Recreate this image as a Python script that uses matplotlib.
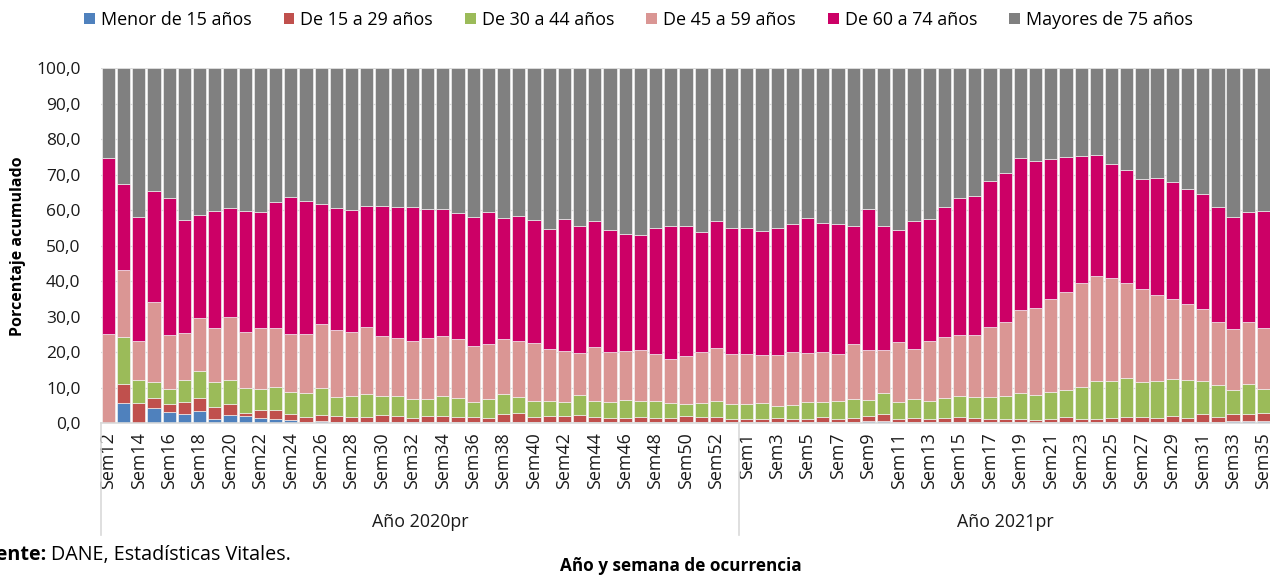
import numpy as np
import matplotlib
matplotlib.use("Agg")
import matplotlib.pyplot as plt
from matplotlib.patches import Patch
from matplotlib.lines import Line2D

plt.rcParams['font.family'] = ['Open Sans', 'DejaVu Sans']

# ---------------- data ----------------
semanas_2020 = ["Sem%d" % i for i in range(12, 54)]   # Sem12 .. Sem53
semanas_2021 = ["Sem%d" % i for i in range(1, 36)]    # Sem1 .. Sem35
semanas = semanas_2020 + semanas_2021

grupos = ["Año 2020pr", "Año 2021pr"]

series_names = ["Menor de 15 años", "De 15 a 29 años", "De 30 a 44 años",
                "De 45 a 59 años", "De 60 a 74 años", "Mayores de 75 años"]

menor15 = [0.0, 5.5, 0.0, 4.3, 3.2, 2.6, 3.4, 1.2, 2.3, 2.0,
           1.5, 1.2, 0.9, 0.4, 0.6, 0.4, 0.4, 0.3, 0.4, 0.3,
           0.3, 0.3, 0.3, 0.3, 0.2, 0.2, 0.4, 0.3, 0.2, 0.2,
           0.2, 0.2, 0.2, 0.3, 0.2, 0.2, 0.2, 0.2, 0.4, 0.3,
           0.2, 0.2,
           0.2, 0.2, 0.2, 0.2, 0.2, 0.4, 0.2, 0.2, 0.5, 0.6,
           0.2, 0.2, 0.2, 0.2, 0.2, 0.2, 0.2, 0.2, 0.2, 0.1,
           0.2, 0.2, 0.2, 0.2, 0.2, 0.2, 0.2, 0.2, 0.4, 0.2,
           0.3, 0.2, 0.6, 0.7, 0.7]
de15a29 = [0.0, 5.4, 5.5, 2.8, 2.2, 3.4, 3.7, 3.3, 3.0, 0.8,
           2.1, 2.4, 1.6, 1.3, 1.6, 1.6, 1.4, 1.5, 1.8, 1.8,
           1.2, 1.7, 1.7, 1.3, 1.5, 1.2, 2.0, 2.4, 1.5, 1.9,
           1.9, 2.0, 1.5, 1.1, 1.3, 1.5, 1.3, 1.3, 1.7, 1.5,
           1.6, 1.0,
           0.8, 1.0, 1.2, 0.9, 1.0, 1.3, 1.0, 1.3, 1.5, 1.8,
           1.0, 1.2, 1.0, 1.1, 1.6, 1.3, 1.0, 0.9, 1.0, 0.7,
           1.0, 1.5, 1.0, 1.0, 1.3, 1.5, 1.5, 1.3, 1.7, 1.3,
           2.1, 1.6, 2.0, 1.7, 2.0]
de30a44 = [0.0, 13.3, 6.6, 4.4, 4.2, 6.0, 7.5, 7.0, 6.7, 7.2,
           5.9, 6.5, 6.2, 6.8, 7.8, 5.4, 5.8, 6.3, 5.5, 5.6,
           5.2, 4.8, 5.6, 5.5, 4.2, 5.3, 5.7, 4.5, 4.4, 4.0,
           3.7, 5.6, 4.6, 4.5, 4.9, 4.4, 4.7, 4.2, 3.3, 3.7,
           4.3, 4.1,
           4.3, 4.3, 3.5, 4.1, 4.6, 4.1, 5.1, 5.4, 4.4, 6.1,
           4.8, 5.3, 5.0, 5.8, 5.8, 5.9, 6.0, 6.5, 7.2, 7.0,
           7.6, 7.6, 8.9, 10.7, 10.4, 10.9, 10.0, 10.4, 10.3, 10.6,
           9.4, 9.0, 6.8, 8.5, 7.0]
de45a59 = [25.0, 18.9, 11.0, 22.7, 15.1, 13.4, 15.0, 15.4, 17.8, 15.6,
           17.4, 16.6, 16.4, 16.6, 18.0, 18.8, 18.1, 19.1, 16.9, 16.2,
           16.5, 17.2, 17.0, 16.6, 15.9, 15.5, 15.5, 15.9, 16.5, 14.7,
           14.4, 11.8, 15.0, 14.0, 13.8, 14.5, 13.2, 12.3, 13.4, 14.5,
           15.0, 14.1,
           14.1, 13.7, 14.4, 14.7, 13.9, 14.1, 13.2, 15.5, 14.2, 12.0,
           16.8, 14.2, 16.8, 17.1, 17.3, 17.4, 20.0, 20.9, 23.4, 24.5,
           26.3, 27.7, 29.3, 29.5, 28.9, 27.0, 26.0, 24.1, 22.5, 21.4,
           20.2, 17.7, 17.0, 17.6, 17.0]
de60a74 = [49.8, 24.3, 35.1, 31.3, 38.6, 31.9, 29.1, 32.9, 30.9, 34.2,
           32.6, 35.7, 38.6, 37.5, 33.8, 34.4, 34.4, 34.0, 36.7, 37.0,
           37.8, 36.3, 35.7, 35.6, 36.3, 37.2, 34.3, 35.4, 34.6, 33.9,
           37.4, 35.8, 35.6, 34.4, 33.2, 32.5, 35.7, 37.4, 36.6, 33.9,
           35.8, 35.7,
           35.7, 35.0, 35.8, 36.3, 38.2, 36.5, 36.6, 33.0, 39.7, 35.0,
           31.7, 36.0, 34.6, 36.6, 38.4, 39.3, 41.1, 42.1, 43.0, 41.6,
           39.4, 38.0, 36.0, 34.2, 32.1, 31.6, 31.1, 33.2, 33.1, 32.6,
           32.7, 32.4, 31.6, 31.0, 33.2]
mayores75 = [25.2, 32.6, 41.8, 34.5, 36.7, 42.7, 41.3, 40.2, 39.3, 40.2,
             40.5, 37.6, 36.3, 37.4, 38.2, 39.4, 39.9, 38.8, 38.7, 39.1,
             39.0, 39.7, 39.7, 40.7, 41.9, 40.6, 42.1, 41.5, 42.8, 45.3,
             42.4, 44.6, 43.1, 45.7, 46.6, 46.9, 44.9, 44.6, 44.6, 46.1,
             43.1, 44.9,
             44.9, 45.8, 44.9, 43.8, 42.1, 43.6, 43.9, 44.6, 39.7, 44.5,
             45.5, 43.1, 42.4, 39.2, 36.7, 35.9, 31.7, 29.4, 25.2, 26.1,
             25.5, 25.0, 24.6, 24.4, 27.1, 28.8, 31.2, 30.8, 32.0, 33.9,
             35.3, 39.1, 42.0, 40.5, 40.1]

colors = ["#4F81BD", "#C0504D", "#9BBB59", "#DA9694", "#CC0066", "#808080"]

# ---------------- figure ----------------
W, H = 1270, 576
fig = plt.figure(figsize=(W / 100, H / 100), dpi=100)

def fx(px):
    return px / W

def fy(py):
    return 1 - py / H

FS = 12.9
TXT = "#1A1A1A"

slot = 15.2
ax_left = 100.75
n = len(semanas)
ax_bottom_px = 423.0
ax_top_px = 68.3
ax = fig.add_axes([fx(ax_left), fy(ax_bottom_px), (n * slot) / W,
                   (ax_bottom_px - ax_top_px) / H])

x = np.arange(n)
bottom = np.zeros(n)
all_series = [menor15, de15a29, de30a44, de45a59, de60a74, mayores75]
for vals, col in zip(all_series, colors):
    v = np.array(vals, dtype=float)
    ax.bar(x, v, bottom=bottom, width=0.875, color=col,
           edgecolor="#F4F4F4", linewidth=0.45, zorder=2)
    bottom += v

ax.set_xlim(-0.5, n - 0.5)
ax.set_ylim(0, 100)
yt = np.arange(0, 101, 10)
ax.set_yticks(yt)
ax.set_yticklabels([("%.1f" % t).replace(".", ",") for t in yt])
ax.yaxis.grid(True, color="#D9D9D9", linewidth=0.9, zorder=0)
ax.set_axisbelow(True)

ax.set_xticks(x[::2])
ax.set_xticklabels(semanas[::2], rotation=90, va="top", ha="center")
ax.tick_params(axis="x", length=0, pad=6.5, labelsize=FS, colors=TXT)
ax.tick_params(axis="y", length=0, pad=14.5, labelsize=12.5, colors=TXT)

for s in ["top", "right", "left"]:
    ax.spines[s].set_visible(False)
ax.spines["bottom"].set_color("#D9D9D9")
ax.spines["bottom"].set_linewidth(1.2)

# category group separator lines
n2020 = len(semanas_2020)
for px in [ax_left, ax_left + n2020 * slot]:
    fig.add_artist(Line2D([fx(px), fx(px)], [fy(ax_bottom_px), fy(535)],
                          color="#D9D9D9", linewidth=1.2))

# group labels
fig.text(fx((ax_left + ax_left + n2020 * slot) / 2), fy(522), grupos[0],
         ha="center", va="center", fontsize=FS, color=TXT)
fig.text(fx(1005), fy(522), grupos[1],
         ha="center", va="center", fontsize=FS, color=TXT)

# axis titles
fig.text(fx(18), fy(246), "Porcentaje acumulado", rotation=90,
         ha="center", va="center", fontsize=11.5, fontweight="bold", color="#000000")
fig.text(fx(681), fy(566), "Año y semana de ocurrencia",
         ha="center", va="center", fontsize=12.3, fontweight="bold", color="#000000")

# source note (cropped at left edge as in the reference)
fig.text(fx(46), fy(555), "Fuente:", ha="right", va="center",
         fontsize=14.2, fontweight="bold", color="#000000")
fig.text(fx(51), fy(555), "DANE, Estadísticas Vitales.", ha="left", va="center",
         fontsize=14.2, color="#000000")

# legend
handles = [Patch(facecolor=c, edgecolor="none") for c in colors]
fig.legend(handles, series_names, loc="center left",
           bbox_to_anchor=(fx(84), fy(20)), ncol=6, frameon=False,
           fontsize=FS, handlelength=0.6, handleheight=0.6,
           handletextpad=0.33, columnspacing=1.8, borderpad=0,
           borderaxespad=0)

fig.savefig("out.png", dpi=100)
